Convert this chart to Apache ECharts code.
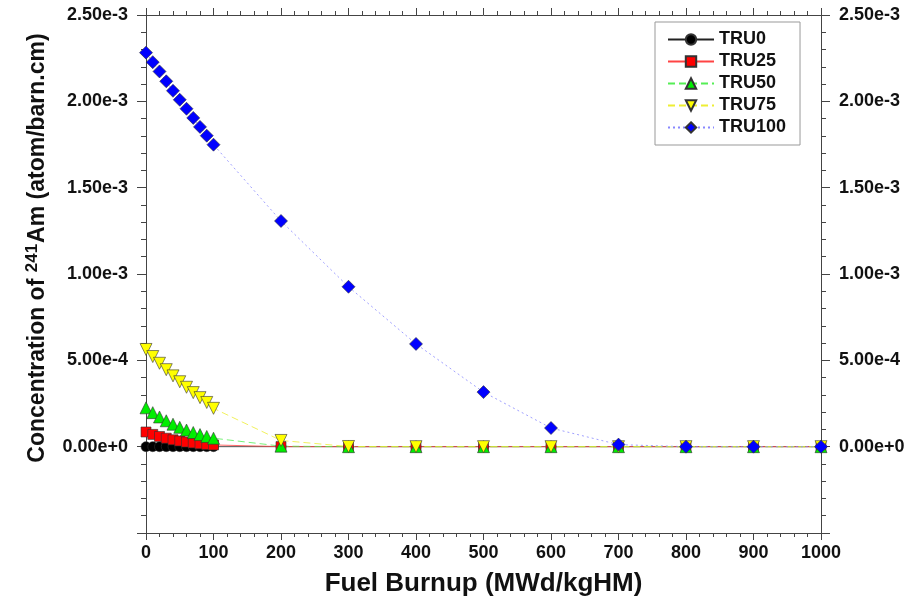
<!DOCTYPE html>
<html>
<head>
<meta charset="utf-8">
<title>Am-241</title>
<script src="https://cdn.jsdelivr.net/npm/echarts@6/dist/echarts.min.js"></script>
<style>
    html, body {margin: 0; padding: 0; background: #fff;}
    #keyShow {width: 912px; height: 607px;}
</style>
</head>
<body>
<div id="keyShow"></div>
<script>
// 燃耗点 (MWd/kgHM)
var burnup = [0, 10, 20, 30, 40, 50, 60, 70, 80, 90, 100, 200, 300, 400, 500, 600, 700, 800, 900, 1000];

// 各方案 241Am 浓度 (atom/barn.cm)
var tru0 = [0, 0, 0, 0, 0, 0, 0, 0, 0, 0, 0, 0, 0, 0, 0, 0, 0, 0, 0, 0];
var tru25 = [0.085e-3, 0.071e-3, 0.059e-3, 0.049e-3, 0.040e-3, 0.033e-3, 0.027e-3, 0.022e-3, 0.017e-3, 0.013e-3, 0.010e-3,
    0.0005e-3, 0, 0, 0, 0, 0, 0, 0, 0];
var tru50 = [0.225e-3, 0.197e-3, 0.172e-3, 0.150e-3, 0.130e-3, 0.112e-3, 0.096e-3, 0.082e-3, 0.070e-3, 0.059e-3, 0.049e-3,
    0.003e-3, 0, 0, 0, 0, 0, 0, 0, 0];
var tru75 = [0.563e-3, 0.522e-3, 0.483e-3, 0.446e-3, 0.410e-3, 0.376e-3, 0.344e-3, 0.313e-3, 0.284e-3, 0.256e-3, 0.222e-3,
    0.036e-3, 0.001e-3, 0, 0, 0, 0, 0, 0, 0];
var tru100 = [2.282e-3, 2.227e-3, 2.173e-3, 2.116e-3, 2.061e-3, 2.009e-3, 1.957e-3, 1.904e-3, 1.852e-3, 1.801e-3, 1.749e-3,
    1.307e-3, 0.926e-3, 0.595e-3, 0.316e-3, 0.108e-3, 0.012e-3, 0, 0, 0];

var seriesNames = ['TRU0', 'TRU25', 'TRU50', 'TRU75', 'TRU100'];
var yTicks = [-0.5e-3, 2.5e-3, 0.5e-3]; // min, max, interval

var fontName = '"Liberation Sans", Arial, sans-serif';

function toPairs(xs, ys) {//组合成 [x, y]
    var arr = [];
    for (var i = 0; i < xs.length; i++) {
        arr.push([xs[i], ys[i]]);
    }
    return arr;
}

function fmtY(v) {//科学计数法标签, 负值不显示
    if (v < -1e-12) {
        return '';
    }
    if (Math.abs(v) < 1e-12) {
        v = 0;
    }
    return v.toExponential(2);
}

var axisColor = '#444';

function makeXAxis(pos, showLabel) {
    return {
        type: 'value',
        position: pos,
        min: 0,
        max: 1000,
        interval: 100,
        axisLine: {show: true, onZero: false, lineStyle: {color: axisColor, width: 1}},
        axisTick: {show: true, inside: false, length: 7, lineStyle: {color: axisColor}},
        minorTick: {show: true, splitNumber: 5, length: 4, lineStyle: {color: axisColor}},
        splitLine: {show: false},
        axisLabel: {
            show: showLabel,
            margin: 11,
            color: '#111',
            fontSize: 18,
            fontWeight: 'bold',
            fontFamily: fontName,
            formatter: function (v) {
                return String(v);
            }
        }
    };
}

function makeYAxis(pos) {
    return {
        type: 'value',
        position: pos,
        min: yTicks[0],
        max: yTicks[1],
        interval: yTicks[2],
        axisLine: {show: true, onZero: false, lineStyle: {color: axisColor, width: 1}},
        axisTick: {show: true, inside: false, length: 9, lineStyle: {color: axisColor}},
        minorTick: {show: true, splitNumber: 5, length: 5, lineStyle: {color: axisColor}},
        splitLine: {show: false},
        axisLabel: {
            margin: 18,
            color: '#111',
            fontSize: 18,
            fontWeight: 'bold',
            fontFamily: fontName,
            formatter: fmtY
        }
    };
}

var chart = echarts.init(document.getElementById('keyShow'));

var xBottom = makeXAxis('bottom', true);
xBottom.name = 'Fuel Burnup (MWd/kgHM)';
xBottom.nameLocation = 'middle';
xBottom.nameGap = 38;
xBottom.nameTextStyle = {fontSize: 26, fontWeight: 'bold', color: '#111', fontFamily: fontName};

var yLeft = makeYAxis('left');
yLeft.name = 'Concentration of {sup|241}Am (atom/barn.cm)';
yLeft.nameLocation = 'middle';
yLeft.nameGap = 95;
yLeft.nameTextStyle = {
    fontSize: 23,
    fontWeight: 'bold',
    color: '#111',
    fontFamily: fontName,
    padding: [0, 0, 0, 52],
    rich: {
        sup: {fontSize: 17, fontWeight: 'bold', color: '#111', fontFamily: fontName, verticalAlign: 'top', padding: [0, 1, 10, 0]}
    }
};

// 线型与标记
var styles = [
    {color: '#000000', line: '#222222', type: 'solid', symbol: 'circle', size: 10, rotate: 0},
    {color: '#ff0000', line: '#ff4444', type: 'solid', symbol: 'rect', size: 10, rotate: 0},
    {color: '#00ee00', line: '#55ee55', type: [7, 4], symbol: 'triangle', size: 12, rotate: 0},
    {color: '#ffff00', line: '#eeee33', type: [7, 4], symbol: 'triangle', size: 12, rotate: 180},
    {color: '#0000ff', line: '#8888ff', type: [2, 3], symbol: 'diamond', size: 13, rotate: 0}
];
var allData = [tru0, tru25, tru50, tru75, tru100];

var series = [];
for (var i = 0; i < seriesNames.length; i++) {
    series.push({
        name: seriesNames[i],
        type: 'line',
        xAxisIndex: 0,
        yAxisIndex: 0,
        data: toPairs(burnup, allData[i]),
        symbol: styles[i].symbol,
        symbolSize: styles[i].size,
        symbolRotate: styles[i].rotate,
        showAllSymbol: true,
        smooth: false,
        itemStyle: {color: styles[i].color, borderColor: '#333', borderWidth: 0.6},
        lineStyle: {color: styles[i].line, width: 0.8, type: styles[i].type},
        emphasis: {disabled: true}
    });
}

var option = {
    animation: false,
    backgroundColor: '#fff',
    grid: {left: 146, right: 91, top: 15, bottom: 74},
    legend: {
        orient: 'vertical',
        left: 655,
        top: 22,
        padding: [8, 14, 8, 12],
        itemWidth: 46,
        itemHeight: 13,
        itemGap: 3,
        backgroundColor: '#fff',
        borderColor: '#999',
        borderWidth: 1,
        borderRadius: 0,
        textStyle: {fontSize: 18, lineHeight: 19, fontWeight: 'bold', color: '#111', fontFamily: fontName},
        data: seriesNames
    },
    xAxis: [xBottom, makeXAxis('top', false)],
    yAxis: [yLeft, makeYAxis('right')],
    series: series
};

chart.setOption(option, true);
</script>
</body>
</html>
